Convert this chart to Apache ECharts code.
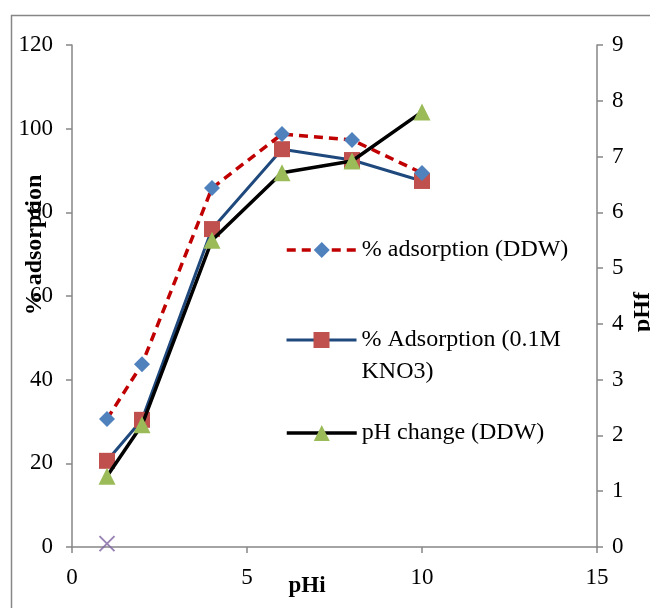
<!DOCTYPE html>
<html><head><meta charset="utf-8">
<script src="https://cdn.jsdelivr.net/npm/echarts@6/dist/echarts.min.js"></script>
<style>html,body{margin:0;padding:0;background:#fff}#c{width:650px;height:608px}</style>
</head><body><div id="c"></div>
<script>
var pHi = [1, 2, 4, 6, 8, 10];
var adsDDW = [30.6, 43.7, 85.8, 98.7, 97.3, 89.4];
var adsKNO3 = [20.6, 30.4, 76.0, 95.1, 92.5, 87.5];
var pHf = [1.27, 2.19, 5.50, 6.71, 6.92, 7.80];
var stray = [[1, 0.8]];
var leftTicks = [0, 120, 20];
var rightTicks = [0, 9, 1];
var xTicks = [0, 15, 5];
var names = ['% adsorption (DDW)', '% Adsorption (0.1M KNO3)', 'pH change (DDW)'];

function pairs(xs, ys){ return xs.map(function(x,i){ return [x, ys[i]]; }); }

var font = 'Liberation Serif, Times New Roman, serif';
var axisCol = '#868686';
var chart = echarts.init(document.getElementById('c'));
function legendAt(name, top, lw, extra){
  var ts = {fontFamily: font, fontSize: 24, color: '#000'};
  if (extra) for (var k in extra) ts[k] = extra[k];
  return {data: [name], left: 285, top: top, itemWidth: 70, itemHeight: 20, itemGap: 8,
    padding: 0, textStyle: ts, selectedMode: false, lineStyle: {width: lw},
    formatter: function(n){ return n === names[1] ? '\u00a0\n% Adsorption (0.1M\nKNO3)' : n; }};
}
chart.setOption({
  animation: false,
  backgroundColor: '#fff',
  grid: {left: 72, right: 53, top: 45, bottom: 61, containLabel: false},
  xAxis: {type: 'value', min: xTicks[0], max: xTicks[1], interval: xTicks[2],
    axisLine: {show: true, onZero: false, lineStyle: {color: axisCol, width: 1.5}},
    axisTick: {show: true, inside: false, length: 6, lineStyle: {color: axisCol, width: 1.5}},
    splitLine: {show: false},
    axisLabel: {fontFamily: font, fontSize: 23, color: '#000', margin: 19}},
  yAxis: [
    {type: 'value', min: leftTicks[0], max: leftTicks[1], interval: leftTicks[2], position: 'left',
      axisLine: {show: true, lineStyle: {color: axisCol, width: 1.5}},
      axisTick: {show: true, inside: false, length: 6, lineStyle: {color: axisCol, width: 1.5}},
      splitLine: {show: false},
      axisLabel: {fontFamily: font, fontSize: 23, color: '#000', margin: 19}},
    {type: 'value', min: rightTicks[0], max: rightTicks[1], interval: rightTicks[2], position: 'right',
      axisLine: {show: true, lineStyle: {color: axisCol, width: 1.5}},
      axisTick: {show: true, inside: false, length: 6, lineStyle: {color: axisCol, width: 1.5}},
      splitLine: {show: false},
      axisLabel: {fontFamily: font, fontSize: 23, color: '#000', margin: 15}}
  ],
  legend: [
    legendAt(names[0], 238, 3.5),
    legendAt(names[1], 292, 3, {lineHeight: 32}),
    legendAt(names[2], 421, 3.5)
  ],
  series: [
    {name: names[0], type: 'line', yAxisIndex: 0, data: pairs(pHi, adsDDW),
      symbol: 'diamond', symbolSize: 16,
      lineStyle: {color: '#C00000', width: 3.5, type: [9, 6]},
      itemStyle: {color: '#4F81BD'}, z: 4},
    {name: names[1], type: 'line', yAxisIndex: 0, data: pairs(pHi, adsKNO3),
      symbol: 'rect', symbolSize: 16,
      lineStyle: {color: '#1F497D', width: 3},
      itemStyle: {color: '#C0504D'}, z: 3},
    {name: names[2], type: 'line', yAxisIndex: 1, data: pairs(pHi, pHf),
      symbol: 'triangle', symbolSize: 17,
      lineStyle: {color: '#000', width: 3.5},
      itemStyle: {color: '#9BBB59'}, z: 5},
    {name: 'stray', type: 'scatter', yAxisIndex: 0, data: stray,
      symbol: 'path://M0,0L10,10M10,0L0,10', symbolSize: 15,
      itemStyle: {color: 'none', borderColor: '#8064A2', borderWidth: 2}, z: 6}
  ],
  graphic: [
    {type: 'rect', left: 9, top: 13, shape: {width: 700, height: 700}, silent: true, z: -1,
      style: {fill: 'none', stroke: '#868686', lineWidth: 1.5}},
    {type: 'text', x: 35, y: 245, rotation: Math.PI/2, z: 10,
      style: {text: '% adsorption', fontFamily: font, fontWeight: 'bold', fontSize: 24,
        fill: '#000', align: 'center', verticalAlign: 'middle'}},
    {type: 'text', x: 643, y: 312, rotation: Math.PI/2, z: 10,
      style: {text: 'pHf', fontFamily: font, fontWeight: 'bold', fontSize: 24,
        fill: '#000', align: 'center', verticalAlign: 'middle'}},
    {type: 'text', x: 307, y: 586, z: 10,
      style: {text: 'pHi', fontFamily: font, fontWeight: 'bold', fontSize: 23,
        fill: '#000', align: 'center', verticalAlign: 'middle'}}
  ]
});
</script></body></html>
